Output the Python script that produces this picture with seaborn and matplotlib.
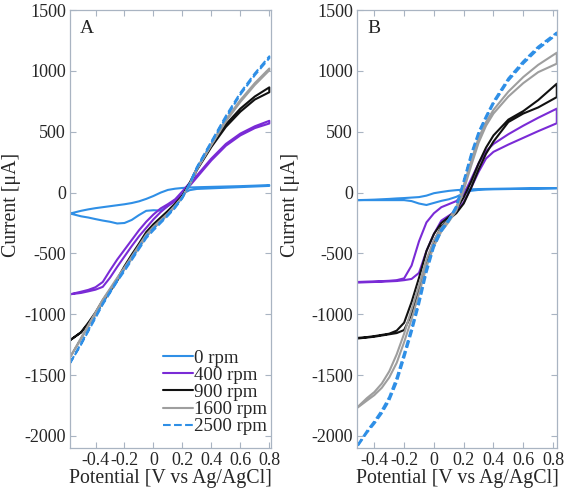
import matplotlib
matplotlib.use("Agg")
import matplotlib.pyplot as plt
import seaborn as sns
import pandas as pd

# ----------------------------
# Data (current in uA)
# ----------------------------
rpm_labels = ["0 rpm", "400 rpm", "900 rpm", "1600 rpm", "2500 rpm"]

# Panel A potential grid [V vs Ag/AgCl]
pot_a = [-0.575, -0.5, -0.45, -0.4, -0.35, -0.3, -0.25, -0.2, -0.15, -0.1, -0.05, 0.0,
         0.05, 0.1, 0.15, 0.2, 0.25, 0.3, 0.4, 0.5, 0.6, 0.7, 0.8]

a_0_fwd = [-172, -150, -138, -128, -120, -112, -104, -96, -86, -72, -52, -28,
           0, 22, 32, 38, 42, 44, 47, 50, 53, 57, 62]
a_0_rev = [-172, -195, -205, -218, -230, -240, -254, -250, -225, -185, -150, -145,
           -148, -110, -60, -10, 20, 30, 35, 40, 45, 50, 55]
a_400_fwd = [-836, -815, -800, -778, -735, -640, -550, -470, -390, -310, -240, -180,
             -130, -95, -55, 10, 80, 140, 280, 400, 485, 545, 590]
a_400_rev = [-836, -825, -812, -798, -775, -700, -610, -525, -440, -360, -290, -220,
             -160, -110, -70, -20, 55, 125, 265, 385, 470, 530, 568]
a_900_fwd = [-1213, -1148, -1070, -985, -885, -800, -710, -605, -510, -420, -325, -260,
             -205, -150, -90, -25, 80, 200, 390, 560, 690, 790, 865]
a_900_rev = [-1213, -1150, -1080, -1000, -900, -815, -725, -620, -530, -440, -345, -280,
             -220, -160, -100, -35, 65, 185, 375, 540, 665, 765, 825]
a_1600_fwd = [-1352, -1195, -1090, -985, -880, -790, -700, -615, -525, -435, -345, -280,
              -225, -170, -105, -35, 70, 200, 400, 600, 760, 900, 1020]
a_1600_rev = [-1352, -1205, -1100, -1000, -895, -805, -715, -630, -545, -455, -365, -295,
              -240, -180, -115, -40, 60, 190, 390, 585, 745, 885, 1005]
a_2500_fwd = [-1400, -1240, -1130, -1020, -910, -815, -720, -630, -540, -450, -360, -295,
              -240, -180, -115, -40, 75, 210, 420, 630, 820, 980, 1120]
a_2500_rev = [-1400, -1250, -1140, -1030, -920, -825, -730, -645, -555, -465, -375, -310,
              -250, -190, -125, -45, 65, 200, 410, 615, 805, 965, 1105]

# Panel B potential grid
pot_b = [-0.515, -0.45, -0.4, -0.35, -0.3, -0.25, -0.2, -0.15, -0.1, -0.05, 0.0, 0.05,
         0.1, 0.15, 0.2, 0.25, 0.3, 0.35, 0.4, 0.5, 0.6, 0.7, 0.825]

b_0_fwd = [-62, -60, -58, -55, -52, -48, -45, -41, -37, -25, -5, 5,
           14, 20, 24, 27, 29, 30, 31, 33, 34, 35, 37]
b_0_rev = [-62, -62, -62, -62, -62, -62, -62, -70, -90, -102, -85, -68,
           -55, -35, -5, 15, 22, 25, 27, 29, 31, 33, 35]
b_400_fwd = [-735, -732, -730, -728, -725, -720, -705, -600, -400, -245, -170, -120,
             -95, -70, -15, 110, 240, 340, 400, 480, 550, 615, 690]
b_400_rev = [-740, -737, -735, -733, -730, -727, -720, -710, -660, -480, -340, -230,
             -190, -150, -80, 40, 170, 280, 335, 395, 450, 505, 570]
b_900_fwd = [-1195, -1188, -1180, -1170, -1160, -1135, -1070, -900, -700, -480, -340, -250,
             -200, -140, -40, 90, 240, 370, 470, 600, 670, 760, 895]
b_900_rev = [-1200, -1192, -1185, -1175, -1165, -1155, -1130, -1000, -790, -570, -400, -280,
             -220, -170, -90, 40, 190, 320, 420, 580, 650, 700, 785]
b_1600_fwd = [-1766, -1690, -1640, -1570, -1470, -1330, -1160, -960, -760, -550, -390, -290,
              -220, -120, 60, 260, 450, 580, 680, 830, 950, 1050, 1150]
b_1600_rev = [-1770, -1710, -1665, -1605, -1520, -1400, -1230, -1040, -830, -610, -440, -320,
              -240, -150, 20, 220, 410, 550, 650, 790, 900, 990, 1060]
b_2500_fwd = [-2080, -1960, -1880, -1790, -1680, -1520, -1320, -1110, -880, -620, -420, -300,
              -220, -110, 100, 320, 500, 630, 750, 940, 1080, 1200, 1316]
b_2500_rev = [-2090, -1975, -1900, -1815, -1710, -1560, -1360, -1150, -920, -660, -450, -320,
              -235, -125, 80, 300, 480, 610, 730, 920, 1060, 1180, 1300]

colors = ["#2f8fe6", "#7a2bd6", "#111111", "#9e9e9e", "#2f8fe6"]
styles = ["-", "-", "-", "-", "--"]

panel_a = [(a_0_fwd, a_0_rev), (a_400_fwd, a_400_rev), (a_900_fwd, a_900_rev),
           (a_1600_fwd, a_1600_rev), (a_2500_fwd, a_2500_rev)]
panel_b = [(b_0_fwd, b_0_rev), (b_400_fwd, b_400_rev), (b_900_fwd, b_900_rev),
           (b_1600_fwd, b_1600_rev), (b_2500_fwd, b_2500_rev)]

# ----------------------------
# Plot
# ----------------------------
sns.set_style("ticks")
plt.rcParams["font.family"] = ["Liberation Serif", "DejaVu Serif"]
plt.rcParams["axes.unicode_minus"] = False

spine_col = "#a9b4c2"
fig = plt.figure(figsize=(5.67, 4.92), dpi=100)
ax_a = fig.add_axes([0.1235, 0.0894, 0.354, 0.890])
ax_b = fig.add_axes([0.630, 0.0894, 0.352, 0.890])


def draw_loops(ax, pot, loops, with_label):
    for (fwd, rev), col, ls, lab in zip(loops, colors, styles, rpm_labels):
        df = pd.DataFrame({"pot": pot + pot[::-1], "cur": fwd + rev[::-1]})
        sns.lineplot(data=df, x="pot", y="cur", sort=False, estimator=None, ax=ax,
                     color=col, linestyle=ls, linewidth=1.5,
                     label=lab if with_label else None)


draw_loops(ax_a, pot_a, panel_a, True)
draw_loops(ax_b, pot_b, panel_b, False)

for ax, xlim, letter, ylab_x in [(ax_a, (-0.576, 0.81), "A", -0.245),
                                 (ax_b, (-0.515, 0.825), "B", -0.285)]:
    ax.set_xlim(*xlim)
    ax.set_ylim(-2100, 1500)
    ax.set_xticks([-0.4, -0.2, 0, 0.2, 0.4, 0.6, 0.8],
                  ["-0.4", "-0.2", "0", "0.2", "0.4", "0.6", "0.8"])
    ax.set_yticks(range(-2000, 1501, 500))
    ax.tick_params(direction="in", top=True, right=True, length=4, width=0.8,
                   color=spine_col, labelsize=13, pad=3)
    for s in ax.spines.values():
        s.set_color(spine_col)
        s.set_linewidth(0.9)
    ax.set_xlabel("Potential [V vs Ag/AgCl]", fontsize=14.3, labelpad=0)
    ax.set_ylabel("Current [μA]", fontsize=14.3)
    ax.yaxis.set_label_coords(ylab_x, 0.555)
    ax.text(0.05, 0.978, letter, transform=ax.transAxes, fontsize=14, va="top")

leg = ax_a.legend(loc="lower right", bbox_to_anchor=(1.0, 0.02), frameon=False,
                  fontsize=13.6, handlelength=1.6, handletextpad=0.05,
                  labelspacing=0.0, borderpad=0.1, borderaxespad=0.1)

fig.savefig("out.png", dpi=100)
